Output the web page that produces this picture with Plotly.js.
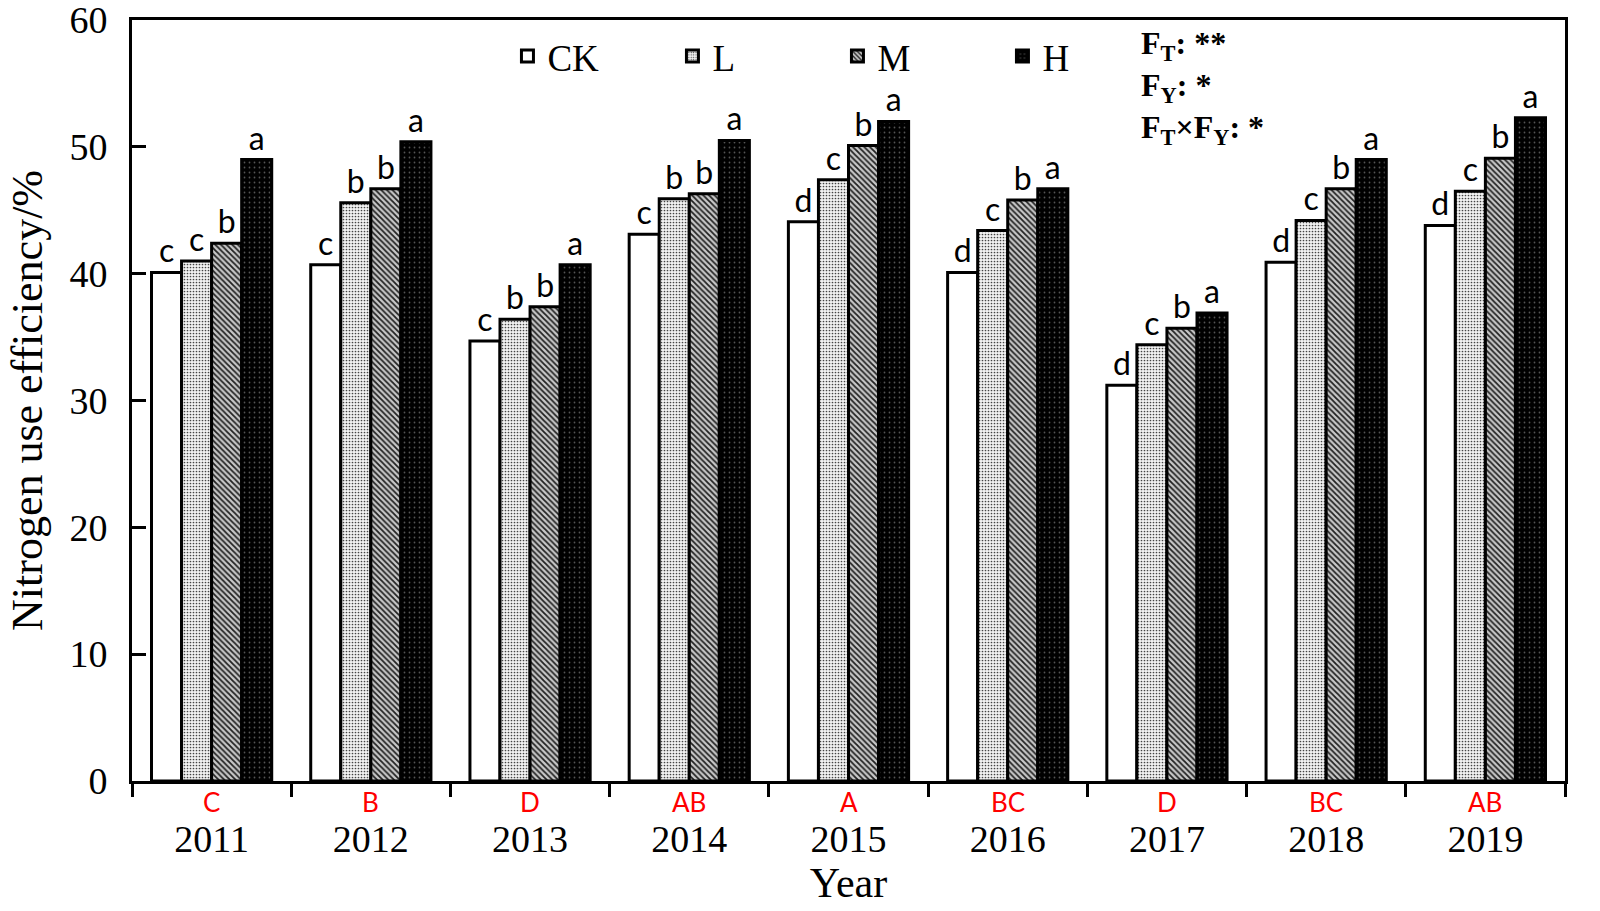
<!DOCTYPE html>
<html>
<head>
<meta charset="utf-8">
<script src="https://cdn.plot.ly/plotly-3.0.1.min.js"></script>
<style>
  html, body { margin: 0; padding: 0; background: #fff; }
  #chart { width: 1600px; height: 911px; }
</style>
</head>
<body>
<div id="chart"></div>
<script>
// data -----------------------------------------------------------------
const years = ["2011", "2012", "2013", "2014", "2015", "2016", "2017", "2018", "2019"];
const yearGroups = ["C", "B", "D", "AB", "A", "BC", "D", "BC", "AB"];

const ck = [40.1, 40.7, 34.7, 43.1, 44.1, 40.1, 31.2, 40.9, 43.8];
const low = [41.0, 45.6, 36.4, 45.9, 47.4, 43.4, 34.4, 44.2, 46.5];
const mid = [42.4, 46.7, 37.4, 46.3, 50.1, 45.8, 35.7, 46.7, 49.1];
const high = [49.0, 50.4, 40.7, 50.5, 52.0, 46.7, 36.9, 49.0, 52.3];

const ckSig = ["c", "c", "c", "c", "d", "d", "d", "d", "d"];
const lowSig = ["c", "b", "b", "b", "c", "c", "c", "c", "c"];
const midSig = ["b", "b", "b", "b", "b", "b", "b", "b", "b"];
const highSig = ["a", "a", "a", "a", "a", "a", "a", "a", "a"];

const statLines = [
    "<b>F<sub>T</sub>: **</b>",
    "<b>F<sub>Y</sub>: *</b>",
    "<b>F<sub>T</sub>×F<sub>Y</sub>: *</b>"
];

// styles ---------------------------------------------------------------
const serif = "Liberation Serif, Times New Roman, serif";
const sans = "Lato, Open Sans, sans-serif";

// bars sit on index positions 0..8, years are only tick labels
const xIdx = years.map((y, i) => i);

function barTrace(name, values, sig, pattern, color) {
    return {
        type: "bar",
        name: name,
        x: xIdx,
        y: values,
        text: sig,
        textposition: "outside",
        constraintext: "none",
        cliponaxis: false,
        textfont: { family: sans, size: 32, color: "black" },
        marker: {
            color: color,
            line: { color: "black", width: 3 },
            pattern: pattern
        }
    };
}

const data = [
    barTrace("CK", ck, ckSig, { shape: "" }, "white"),
    barTrace("L", low, lowSig,
        { shape: ".", fgcolor: "#444", bgcolor: "#f2f2f2", size: 3, solidity: 0.25, fillmode: "replace" }, "#ddd"),
    barTrace("M", mid, midSig,
        { shape: "\\", fgcolor: "#222", bgcolor: "#c8c8c8", size: 4, solidity: 0.45, fillmode: "replace" }, "#888"),
    barTrace("H", high, highSig,
        { shape: ".", fgcolor: "#555", bgcolor: "black", size: 5, solidity: 0.1, fillmode: "replace" }, "black")
];

// annotations: group letters under each year + F-test text
const annotations = yearGroups.map((g, i) => ({
    x: i, xref: "x",
    y: -0.027, yref: "paper",
    yanchor: "middle",
    text: g,
    showarrow: false,
    font: { family: sans, size: 26, color: "red" }
}));
const statY = [0.966, 0.911, 0.856];
statLines.forEach((t, i) => annotations.push({
    x: 0.703, xref: "paper", xanchor: "left",
    y: statY[i], yref: "paper", yanchor: "middle",
    text: t,
    showarrow: false,
    font: { family: serif, size: 32, color: "black" }
}));

// tick boundaries between year groups
const boundaries = years.concat([""]).map((y, i) => i - 0.5);

const layout = {
    width: 1600,
    height: 911,
    margin: { l: 132, r: 35, t: 20, b: 130 },
    paper_bgcolor: "white",
    plot_bgcolor: "white",
    barmode: "group",
    bargap: 0.245,
    bargroupgap: 0,
    font: { family: serif, color: "black" },
    showlegend: true,
    legend: {
        orientation: "h",
        x: 0.262, xanchor: "left",
        y: 0.952, yanchor: "middle",
        font: { family: serif, size: 37, color: "black" },
        entrywidth: 120,
        entrywidthmode: "pixels",
        bgcolor: "rgba(0,0,0,0)"
    },
    xaxis: {
        type: "linear",
        range: [-0.5, 8.5],
        autorange: false,
        showline: true, linecolor: "black", linewidth: 3, mirror: true,
        tickmode: "array",
        tickvals: xIdx,
        ticktext: years,
        ticks: "",
        ticklabelstandoff: 22,
        tickfont: { family: serif, size: 38, color: "black" },
        showgrid: false,
        zeroline: false,
        title: { text: "Year", font: { family: serif, size: 42, color: "black" }, standoff: 0 }
    },
    // second x axis only for the boundary tick marks
    xaxis2: {
        overlaying: "x",
        matches: "x",
        side: "bottom",
        range: [-0.5, 8.5],
        tickmode: "array",
        tickvals: boundaries,
        showticklabels: false,
        ticks: "outside", ticklen: 15, tickwidth: 3, tickcolor: "black",
        showline: false,
        showgrid: false,
        zeroline: false
    },
    yaxis: {
        range: [0, 60],
        autorange: false,
        tickmode: "array",
        tickvals: [0, 10, 20, 30, 40, 50, 60],
        showline: true, linecolor: "black", linewidth: 3, mirror: true,
        ticks: "inside", ticklen: 14, tickwidth: 3, tickcolor: "black",
        ticklabelstandoff: 14,
        ticklabeloverflow: "allow",
        tickfont: { family: serif, size: 38, color: "black" },
        showgrid: false,
        zeroline: false,
        title: { text: "Nitrogen use efficiency/%", font: { family: serif, size: 44, color: "black" }, standoff: 14 }
    },
    annotations: annotations
};

// an empty trace so that xaxis2 is drawn
data.push({ type: "scatter", x: [0], y: [0], xaxis: "x2", mode: "none", showlegend: false, hoverinfo: "skip" });

Plotly.newPlot("chart", data, layout, { displayModeBar: false, staticPlot: true });
</script>
</body>
</html>
